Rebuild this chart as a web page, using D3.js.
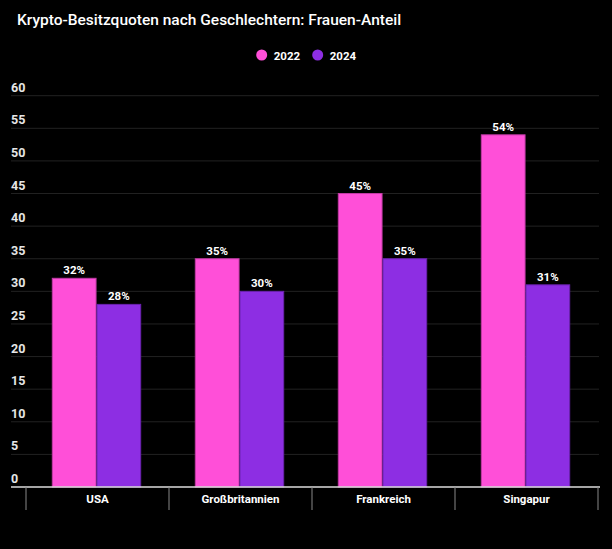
<!DOCTYPE html>
<html><head><meta charset="utf-8">
<script src="https://cdn.jsdelivr.net/npm/d3@7"></script>
<style>
html,body{margin:0;padding:0;background:#000;}
svg{display:block;font-family:Roboto,"Noto Sans",sans-serif;}
</style></head>
<body>
<svg id="chart" width="612" height="549"></svg>
<script>
const categories = ["USA","Großbritannien","Frankreich","Singapur"];
const seriesNames = ["2022","2024"];
const values2022 = [32,35,45,54];
const values2024 = [28,30,35,31];
const yTicks = [0,5,10,15,20,25,30,35,40,45,50,55,60];
const colors = ["#ff4fd8","#8d2ee3"];
const strokes = ["#c23aa6","#6a22ae"];
const title = "Krypto-Besitzquoten nach Geschlechtern: Frauen-Anteil";

const svg = d3.select("#chart");
svg.append("rect").attr("width",612).attr("height",549).attr("fill","#000");

const x = d3.scaleBand().domain(categories).range([26,598]).paddingInner(0).paddingOuter(0);
const y = d3.scaleLinear().domain([0,60]).range([487,95.7]);
const xInner = d3.scaleBand().domain(seriesNames).range([26.3,114.7]).paddingInner(0.02);

// title
svg.append("text").attr("x",17).attr("y",25).attr("fill","#fff")
  .attr("font-size",15.5).attr("font-weight",500).text(title);

// legend
const legendX = [261.7,317.7];
seriesNames.forEach((s,i)=>{
  svg.append("circle").attr("cx",legendX[i]).attr("cy",55).attr("r",5.5).attr("fill",colors[i]);
  svg.append("text").attr("x",legendX[i]+12).attr("y",59.5).attr("fill","#fff")
    .attr("font-size",11.5).attr("font-weight",700).text(s);
});

// gridlines
svg.append("g").selectAll("line").data(yTicks.filter(t=>t>0)).join("line")
  .attr("x1",11).attr("x2",599).attr("y1",d=>y(d)).attr("y2",d=>y(d))
  .attr("stroke","#222").attr("stroke-width",1);

// y tick labels
svg.append("g").selectAll("text").data(yTicks).join("text")
  .attr("x",11).attr("y",d=>y(d)-4).attr("fill","#e6e6e6")
  .attr("font-size",12.5).attr("font-weight",700).text(d=>d);

// bars
const data = categories.map((c,i)=>({cat:c, vals:[values2022[i],values2024[i]]}));
const groups = svg.append("g").selectAll("g").data(data).join("g")
  .attr("transform",d=>`translate(${x(d.cat)},0)`);
groups.selectAll("rect").data(d=>d.vals.map((v,i)=>({v,s:seriesNames[i],i}))).join("rect")
  .attr("x",d=>xInner(d.s)).attr("y",d=>y(d.v))
  .attr("width",xInner.bandwidth()).attr("height",d=>y(0)-y(d.v))
  .attr("fill",d=>colors[d.i]).attr("stroke",d=>strokes[d.i]).attr("stroke-width",1);
groups.selectAll("text").data(d=>d.vals.map((v,i)=>({v,s:seriesNames[i],i}))).join("text")
  .attr("x",d=>xInner(d.s)+xInner.bandwidth()/2).attr("y",d=>y(d.v)-4)
  .attr("text-anchor","middle").attr("fill","#fff")
  .attr("font-size",11.5).attr("font-weight",700).text(d=>d.v+"%");

// x axis
const xAxis = d3.axisBottom(x).tickSize(0).tickFormat(d=>d);
const gx = svg.append("g").attr("transform","translate(0,487)").call(xAxis);
gx.select(".domain").remove();
gx.selectAll("text").attr("dy",0).attr("y",16).attr("fill","#fff")
  .attr("font-size",11.5).attr("font-weight",700).attr("font-family","Roboto,sans-serif");
svg.append("line").attr("x1",11).attr("x2",600).attr("y1",487).attr("y2",487)
  .attr("stroke","#ddd").attr("stroke-width",1.5);
const bounds = categories.map(c=>x(c)).concat([x.range()[1]]);
svg.append("g").selectAll("line").data(bounds).join("line")
  .attr("x1",d=>d).attr("x2",d=>d).attr("y1",487).attr("y2",510)
  .attr("stroke","#888").attr("stroke-width",1);
</script>
</body></html>
